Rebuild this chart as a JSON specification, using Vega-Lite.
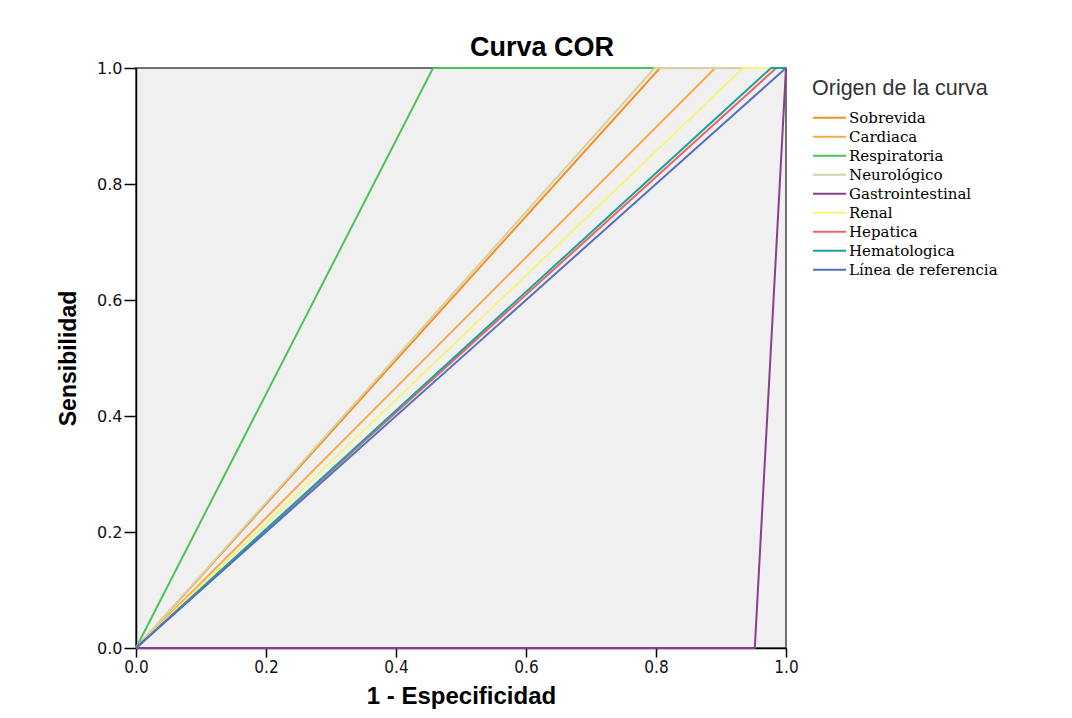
{
  "$schema": "https://vega.github.io/schema/vega-lite/v6.json",
  "width": 650,
  "height": 580,
  "autosize": {"type": "none"},
  "padding": {"left": 136, "top": 68, "right": 286, "bottom": 70},
  "background": "white",
  "title": {"text": "Curva COR", "font": "Liberation Sans", "fontSize": 27, "fontWeight": "bold", "color": "#000", "dx": 81, "offset": -2},
  "data": {"values": [
    {"serie": "Sobrevida", "fpr": 0, "tpr": 0, "o": 0},
    {"serie": "Sobrevida", "fpr": 0.806, "tpr": 1, "o": 1},
    {"serie": "Sobrevida", "fpr": 1, "tpr": 1, "o": 2},
    {"serie": "Cardiaca", "fpr": 0, "tpr": 0, "o": 0},
    {"serie": "Cardiaca", "fpr": 0.891, "tpr": 1, "o": 1},
    {"serie": "Cardiaca", "fpr": 1, "tpr": 1, "o": 2},
    {"serie": "Respiratoria", "fpr": 0, "tpr": 0, "o": 0},
    {"serie": "Respiratoria", "fpr": 0.457, "tpr": 1, "o": 1},
    {"serie": "Respiratoria", "fpr": 1, "tpr": 1, "o": 2},
    {"serie": "Neurológico", "fpr": 0, "tpr": 0, "o": 0},
    {"serie": "Neurológico", "fpr": 0.798, "tpr": 1, "o": 1},
    {"serie": "Neurológico", "fpr": 1, "tpr": 1, "o": 2},
    {"serie": "Gastrointestinal", "fpr": 0, "tpr": 0, "o": 0},
    {"serie": "Gastrointestinal", "fpr": 0.952, "tpr": 0, "o": 1},
    {"serie": "Gastrointestinal", "fpr": 1, "tpr": 1, "o": 2},
    {"serie": "Renal", "fpr": 0, "tpr": 0, "o": 0},
    {"serie": "Renal", "fpr": 0.934, "tpr": 1, "o": 1},
    {"serie": "Renal", "fpr": 1, "tpr": 1, "o": 2},
    {"serie": "Hepatica", "fpr": 0, "tpr": 0, "o": 0},
    {"serie": "Hepatica", "fpr": 0.985, "tpr": 1, "o": 1},
    {"serie": "Hepatica", "fpr": 1, "tpr": 1, "o": 2},
    {"serie": "Hematologica", "fpr": 0, "tpr": 0, "o": 0},
    {"serie": "Hematologica", "fpr": 0.977, "tpr": 1, "o": 1},
    {"serie": "Hematologica", "fpr": 1, "tpr": 1, "o": 2},
    {"serie": "Línea de referencia", "fpr": 0, "tpr": 0, "o": 0},
    {"serie": "Línea de referencia", "fpr": 1, "tpr": 1, "o": 1}
  ]},
  "mark": {"type": "line", "strokeWidth": 2, "clip": false},
  "encoding": {
    "x": {"field": "fpr", "type": "quantitative", "scale": {"domain": [0, 1], "nice": false, "zero": false},
      "axis": {"title": "1 - Especificidad", "values": [0, 0.2, 0.4, 0.6, 0.8, 1], "format": ".1f", "grid": false, "labelFlush": false,
        "domainColor": "#000", "domainWidth": 1.5, "tickColor": "#000", "tickSize": 9, "tickWidth": 1.5,
        "labelFont": "DejaVu Sans Condensed", "labelFontSize": 17, "labelColor": "#111", "labelPadding": 2,
        "titleFont": "Liberation Sans", "titleFontSize": 24, "titleFontWeight": "bold", "titleColor": "#000", "titlePadding": 9}},
    "y": {"field": "tpr", "type": "quantitative", "scale": {"domain": [0, 1], "nice": false, "zero": false},
      "axis": {"title": "Sensibilidad", "values": [0, 0.2, 0.4, 0.6, 0.8, 1], "format": ".1f", "grid": false, "labelFlush": false,
        "domainColor": "#000", "domainWidth": 1.5, "tickColor": "#000", "tickSize": 12, "tickWidth": 1.5,
        "labelFont": "DejaVu Sans", "labelFontSize": 16, "labelColor": "#111", "labelPadding": 2,
        "titleFont": "Liberation Sans", "titleFontSize": 23, "titleFontWeight": "bold", "titleColor": "#000", "titlePadding": 16}},
    "color": {"field": "serie", "type": "nominal",
      "sort": ["Sobrevida", "Cardiaca", "Respiratoria", "Neurológico", "Gastrointestinal", "Renal", "Hepatica", "Hematologica", "Línea de referencia"],
      "scale": {"domain": ["Sobrevida", "Cardiaca", "Respiratoria", "Neurológico", "Gastrointestinal", "Renal", "Hepatica", "Hematologica", "Línea de referencia"],
        "range": ["#f7901e", "#f9a94b", "#4cc25a", "#d6d2a4", "#8c3c91", "#f7f37c", "#f26464", "#1aa39c", "#5470c4"]},
      "legend": {"title": "Origen de la curva", "orient": "none", "legendX": 676, "legendY": 10,
        "titleFont": "Liberation Sans", "titleFontSize": 21.5, "titleFontWeight": "normal", "titleColor": "#333", "titlePadding": 9,
        "labelFont": "DejaVu Serif", "labelFontSize": 15, "labelColor": "#000", "labelOffset": 2,
        "symbolType": "stroke", "symbolSize": 1089, "symbolStrokeWidth": 2, "clipHeight": 18.6, "rowPadding": 0, "padding": 0}},
    "order": {"field": "o", "type": "quantitative"}
  },
  "config": {
    "view": {"fill": "#f0f0f0", "stroke": "#444", "strokeWidth": 1.5}
  }
}
